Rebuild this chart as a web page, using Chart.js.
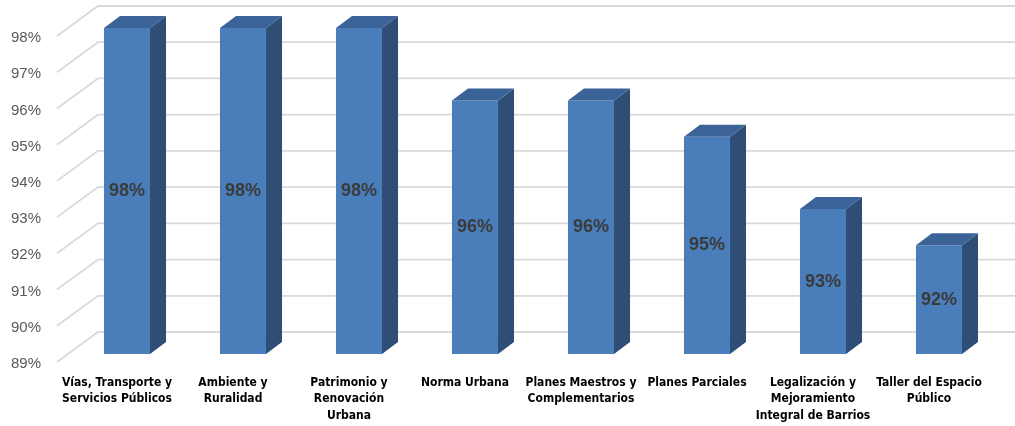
<!DOCTYPE html>
<html>
<head>
<meta charset="utf-8">
<script src="https://cdn.jsdelivr.net/npm/chart.js@4"></script>
<style>
  body { margin: 0; background: #fff; }
  canvas { display: block; }
</style>
</head>
<body>
<canvas id="chart" width="1015" height="426"></canvas>
<script>
const categories = [
    ['Vías, Transporte y', 'Servicios Públicos'],
    ['Ambiente y', 'Ruralidad'],
    ['Patrimonio y', 'Renovación', 'Urbana'],
    'Norma Urbana',
    ['Planes Maestros y', 'Complementarios'],
    'Planes Parciales',
    ['Legalización y', 'Mejoramiento', 'Integral de Barrios'],
    ['Taller del Espacio', 'Público']
];
const values = [98, 98, 98, 96, 96, 95, 93, 92];
const yMin = 89;
const yMax = 98;

const FRONT = '#4a7ebb';
const SIDE = '#2f4e76';
const TOP = '#3b6398';
const DEPTH_X = 16, DEPTH_Y = -12;   // bar depth
const WALL_X = 29, WALL_Y = -22;     // back wall offset from bar fronts

// back wall + left wall gridlines
const wallGrid = {
    id: 'wallGrid',
    beforeDatasetsDraw(chart) {
        const { ctx, chartArea, scales: { y } } = chart;
        ctx.save();
        ctx.strokeStyle = '#d9d9d9';
        ctx.lineWidth = 1.8;
        for (let v = yMin; v <= yMax; v++) {
            const py = y.getPixelForValue(v);
            const bx = chartArea.left + WALL_X;
            ctx.beginPath();
            ctx.moveTo(chartArea.left - 12, py + 8);
            ctx.lineTo(bx, py + WALL_Y);
            ctx.lineTo(chart.width, py + WALL_Y);
            ctx.stroke();
        }
        ctx.restore();
    }
};

// side and top faces, then value labels
const bars3d = {
    id: 'bars3d',
    afterDatasetsDraw(chart) {
        const { ctx, scales: { y } } = chart;
        const meta = chart.getDatasetMeta(0);
        const b = y.getPixelForValue(yMin);
        ctx.save();
        meta.data.forEach((bar, i) => {
            const l = bar.x - bar.width / 2, r = bar.x + bar.width / 2;
            const t = bar.y;
            ctx.fillStyle = SIDE;
            ctx.beginPath();
            ctx.moveTo(r, t);
            ctx.lineTo(r + DEPTH_X, t + DEPTH_Y);
            ctx.lineTo(r + DEPTH_X, b + DEPTH_Y);
            ctx.lineTo(r, b);
            ctx.closePath();
            ctx.fill();
            ctx.fillStyle = TOP;
            ctx.beginPath();
            ctx.moveTo(l, t);
            ctx.lineTo(l + DEPTH_X, t + DEPTH_Y);
            ctx.lineTo(r + DEPTH_X, t + DEPTH_Y);
            ctx.lineTo(r, t);
            ctx.closePath();
            ctx.fill();

            ctx.fillStyle = '#3a3a3a';
            ctx.font = 'bold 18px "Liberation Sans", Arial, sans-serif';
            ctx.textAlign = 'center';
            ctx.textBaseline = 'middle';
            ctx.fillText(values[i] + '%', bar.x, (t + b) / 2);
        });
        ctx.restore();
    }
};

new Chart(document.getElementById('chart'), {
    type: 'bar',
    data: {
        labels: categories,
        datasets: [{
            data: values,
            backgroundColor: FRONT,
            borderWidth: 0,
            categoryPercentage: 1,
            barPercentage: 0.397
        }]
    },
    options: {
        responsive: false,
        animation: false,
        layout: { padding: { top: 28, right: 18, left: 0, bottom: 0 } },
        plugins: { legend: { display: false }, tooltip: { enabled: false } },
        scales: {
            x: {
                grid: { display: false, drawTicks: false },
                border: { display: false },
                ticks: {
                    color: '#000',
                    font: { family: '"Liberation Sans Narrow", "DejaVu Sans Condensed", sans-serif', size: 12, weight: 'bold', lineHeight: 1.4 },
                    padding: 20,
                    labelOffset: -10,
                    maxRotation: 0,
                    autoSkip: false
                },
                afterFit(scale) { scale.height = 72; }
            },
            y: {
                min: yMin,
                max: yMax,
                grid: { display: false, drawTicks: false },
                border: { display: false },
                ticks: {
                    stepSize: 1,
                    color: '#595959',
                    font: { family: '"Liberation Sans", Arial, sans-serif', size: 15 },
                    padding: 28,
                    labelOffset: 10,
                    callback: v => v + '%'
                },
                afterFit(scale) {
                    scale.width = 69;
                    scale.paddingTop = 0;
                    scale.paddingBottom = 0;
                }
            }
        }
    },
    plugins: [wallGrid, bars3d]
});
</script>
</body>
</html>
